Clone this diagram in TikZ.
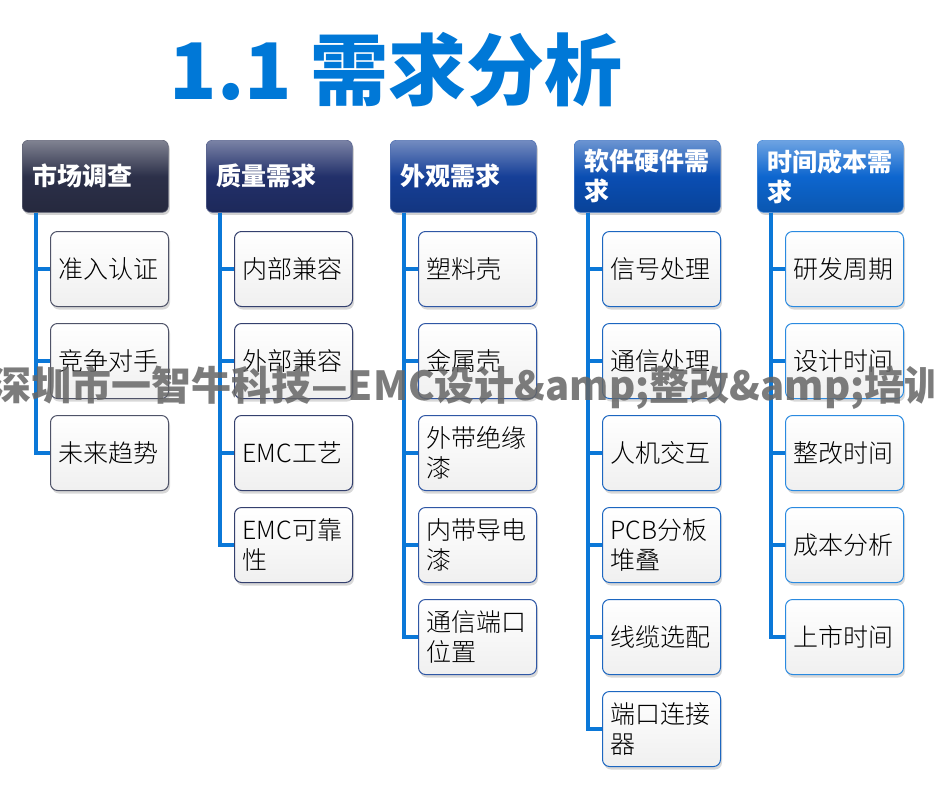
\documentclass[tikz,border=0pt]{standalone}
\usepackage{fontspec}
\setmainfont{Noto Sans CJK SC}
\newfontfamily\lightcjk{Noto Sans CJK SC Light}
\usetikzlibrary{shadows}
\definecolor{titleblue}{HTML}{0078D7}
\definecolor{connblue}{HTML}{0B78D8}
\definecolor{hA}{HTML}{2C3049}
\definecolor{hB}{HTML}{22306A}
\definecolor{hC}{HTML}{163F97}
\definecolor{hD}{HTML}{0A4EB3}
\definecolor{hE}{HTML}{0D66CF}
\definecolor{bA}{HTML}{4F5368}
\definecolor{bB}{HTML}{34406E}
\definecolor{bC}{HTML}{2F57A5}
\definecolor{bD}{HTML}{1C66C0}
\definecolor{bE}{HTML}{2A8AE0}
\tikzset{
  hdr/.style={rounded corners=6pt, anchor=north west, minimum width=146pt, minimum height=72pt,
    text width=126pt, inner xsep=10pt, inner ysep=0pt, align=left, text=white,
    font=\fontsize{25}{30}\selectfont\bfseries, draw=#1!75!white, line width=0.6pt,
    top color=#1!60!white, bottom color=#1!85!black, middle color=#1,
    drop shadow={shadow xshift=1.5pt, shadow yshift=-2.5pt, opacity=0.35}},
  child/.style={rounded corners=7pt, anchor=north west, minimum width=118pt, minimum height=75pt,
    text width=102pt, inner xsep=8pt, inner ysep=0pt, align=left, text=black,
    font=\lightcjk\fontsize{25}{30}\selectfont, draw=#1, line width=1pt,
    top color=white, bottom color=black!6,
    drop shadow={shadow xshift=1.5pt, shadow yshift=-3pt, opacity=0.3}},
  conn/.style={draw=connblue, line width=4pt},
}
\begin{document}
\begin{tikzpicture}[x=1pt,y=-1pt]
\useasboundingbox (0,0) rectangle (934,785);
\fill[white] (0,0) rectangle (934,785);

\node[font=\fontsize{78}{78}\selectfont\bfseries, text=titleblue, inner sep=0pt] (title) at (396,70) {1.1 需求分析};

% headers
\node[hdr=hA] (h1) at (22,140) {市场调查};
\node[hdr=hB] (h2) at (206,140) {质量需求};
\node[hdr=hC] (h3) at (390,140) {外观需求};
\node[hdr=hD] (h4) at (574,140) {软件硬件需\\求};
\node[hdr=hE] (h5) at (757,140) {时间成本需\\求};

% column 1
\node[child=bA] (c11) at (50,231) {准入认证};
\node[child=bA] (c12) at (50,323) {竞争对手};
\node[child=bA] (c13) at (50,415) {未来趋势};
% column 2
\node[child=bB] (c21) at (234,231) {内部兼容};
\node[child=bB] (c22) at (234,323) {外部兼容};
\node[child=bB] (c23) at (234,415) {EMC工艺};
\node[child=bB] (c24) at (234,507) {EMC可靠\\性};
% column 3
\node[child=bC] (c31) at (418,231) {塑料壳};
\node[child=bC] (c32) at (418,323) {金属壳};
\node[child=bC] (c33) at (418,415) {外带绝缘\\漆};
\node[child=bC] (c34) at (418,507) {内带导电\\漆};
\node[child=bC] (c35) at (418,599) {通信端口\\位置};
% column 4
\node[child=bD] (c41) at (602,231) {信号处理};
\node[child=bD] (c42) at (602,323) {通信处理};
\node[child=bD] (c43) at (602,415) {人机交互};
\node[child=bD] (c44) at (602,507) {PCB分板\\堆叠};
\node[child=bD] (c45) at (602,599) {线缆选配};
\node[child=bD] (c46) at (602,691) {端口连接\\器};
% column 5
\node[child=bE] (c51) at (785,231) {研发周期};
\node[child=bE] (c52) at (785,323) {设计时间};
\node[child=bE] (c53) at (785,415) {整改时间};
\node[child=bE] (c54) at (785,507) {成本分析};
\node[child=bE] (c55) at (785,599) {上市时间};

% connectors
\foreach \c/\n in {1/3,2/4,3/5,4/6,5/5}{
  \foreach \k in {1,...,\n}{
    \draw[conn] ([xshift=14pt]h\c.south west) |- (c\c\k.west);
  }
}

% watermark
\node[anchor=west, inner sep=0pt, font=\fontsize{40}{40}\selectfont\bfseries, text=black!60, opacity=0.85] (wm) at (-9,388) {深圳市一智牛科技—EMC设计\&amp;整改\&amp;培训};
\end{tikzpicture}
\end{document}
